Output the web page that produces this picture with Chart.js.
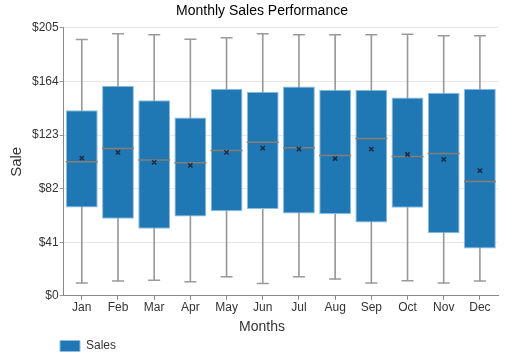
<!DOCTYPE html>
<html><head><meta charset="utf-8">
<script src="https://cdn.jsdelivr.net/npm/chart.js@4/dist/chart.umd.min.js"></script>
<style>html,body{margin:0;padding:0;background:#fff}#wrap{width:532px;height:355px}</style>
</head><body><div id="wrap"><canvas id="c"></canvas></div>
<script>
const months = ['Jan','Feb','Mar','Apr','May','Jun','Jul','Aug','Sep','Oct','Nov','Dec'];
const whiskerMin = [9.7, 11.3, 11.8, 10.8, 14.6, 9.5, 14.6, 12.8, 9.7, 11.5, 9.7, 11.3];
const q1 = [67.6, 58.9, 51.2, 60.7, 64.6, 66.3, 63.0, 62.5, 56.1, 67.4, 47.9, 36.1];
const medians = [102.5, 112.7, 103.8, 101.7, 111.2, 117.4, 113.2, 107.4, 120.4, 106.6, 108.9, 87.4];
const means = [105.3, 109.7, 102.0, 99.7, 109.7, 113.0, 112.2, 105.0, 112.2, 108.1, 104.3, 95.8];
const q3 = [142.0, 160.6, 149.6, 136.3, 158.3, 156.0, 160.1, 157.6, 157.6, 151.7, 155.3, 158.3];
const whiskerMax = [196.0, 200.4, 199.6, 196.3, 197.3, 200.4, 199.6, 199.6, 199.6, 200.1, 199.0, 199.0];
const yTicks = [0, 41, 82, 123, 164, 205];

Chart.defaults.font.family = 'Arial, "Liberation Sans", sans-serif';
Chart.defaults.color = '#333';

const pts = (arr, extra) => Object.assign({type:'line', data:arr, showLine:false, borderWidth:1, pointHoverRadius:0}, extra);

const legendShift = {
  id:'legendShift',
  afterLayout(chart){
    const lg = chart.legend;
    if (lg) { lg.left += 58; lg.right += 58; }
  }
};

new Chart(document.getElementById('c'), {
  data: {
    labels: months,
    datasets: [
      {type:'bar', label:'whisker', data: months.map((m,i)=>[whiskerMin[i], whiskerMax[i]]),
        backgroundColor:'#9a9a9a', borderWidth:0, barThickness:1, grouped:false, order:5},
      pts(whiskerMax, {label:'capTop', pointStyle:'line', pointRadius:6, borderColor:'#9a9a9a', borderWidth:1.5, order:4}),
      pts(whiskerMin, {label:'capBot', pointStyle:'line', pointRadius:6, borderColor:'#9a9a9a', borderWidth:1.5, order:4}),
      {type:'bar', label:'Sales', data: months.map((m,i)=>[q1[i], q3[i]]),
        backgroundColor:'#1f77b4', borderColor:'#8dbde0', borderWidth:1, borderSkipped:false,
        barPercentage:0.88, categoryPercentage:1, grouped:false, order:3},
      pts(medians, {label:'median', pointStyle:'line', pointRadius:16, borderColor:'#8a7d72', borderWidth:1.5, order:2}),
      pts(means, {label:'mean', pointStyle:'crossRot', pointRadius:3, borderColor:'#1b2b3f', borderWidth:1.5, order:1})
    ]
  },
  plugins:[legendShift],
  options: {
    responsive:true, maintainAspectRatio:false, animation:false,
    layout:{padding:{left:0,right:8,top:2,bottom:-7}},
    plugins:{
      title:{display:true, text:'Monthly Sales Performance', color:'#000', font:{size:14, weight:'normal'}, padding:{top:1,bottom:8}},
      subtitle:{display:true, position:'bottom', weight:500, text:'Months', color:'#333', font:{size:14, weight:'normal'}, padding:{top:3,bottom:2}},
      legend:{position:'bottom', weight:1000, align:'start', labels:{filter:(it)=>it.text==='Sales', boxWidth:20, boxHeight:11, color:'#333', font:{size:12}, padding:2}},
      tooltip:{enabled:false}
    },
    scales:{
      x:{type:'category', offset:true,
        grid:{display:true, offset:false, drawOnChartArea:false, drawTicks:true, tickLength:4, color:'#888'},
        border:{color:'#888'},
        ticks:{font:{size:12}, color:'#333', padding:1}},
      y:{min:0, max:205,
        afterBuildTicks:(ax)=>{ax.ticks = yTicks.map(v=>({value:v}));},
        grid:{color:'#e6e6e6', drawTicks:true, tickLength:4, tickColor:'#999'},
        border:{color:'#888'},
        ticks:{font:{size:12}, color:'#333', padding:1, callback:(v)=>'$'+v},
        title:{display:true, text:'Sale', font:{size:15}, color:'#333', padding:{top:8,bottom:5}}},
      yRightSpace:{position:'right', display:true, grid:{display:false}, border:{display:false},
        ticks:{display:false}, afterFit:(s)=>{s.width=26;}}
    }
  }
});
</script></body></html>
